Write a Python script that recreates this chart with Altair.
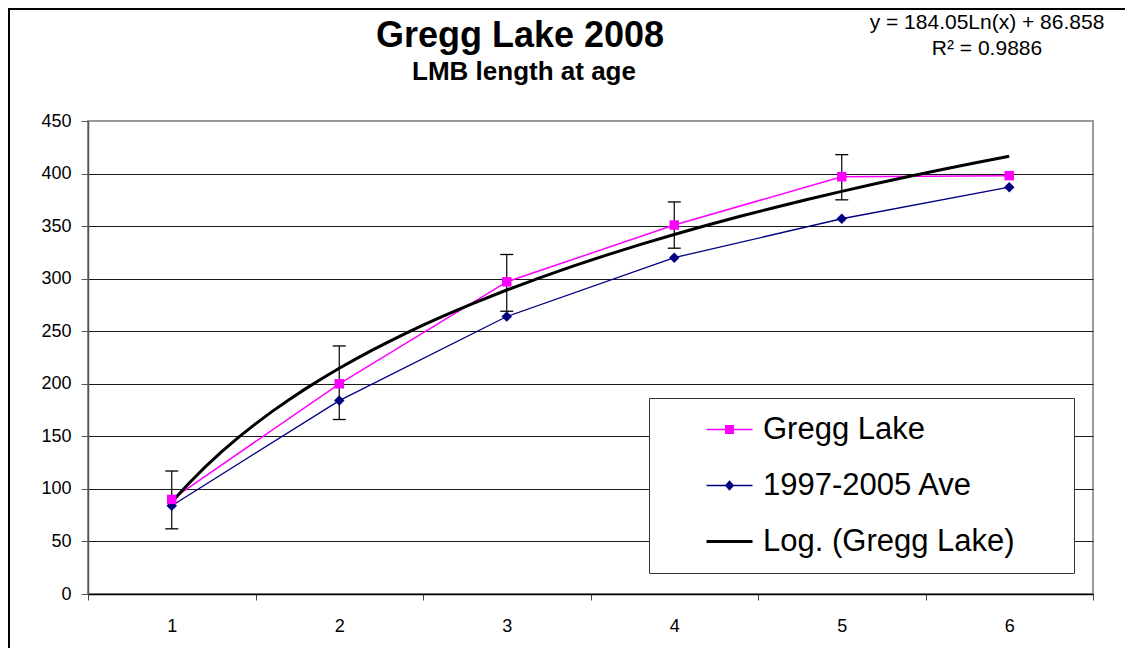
import altair as alt
import pandas as pd

FONT = "Liberation Sans, Arial, sans-serif"

# ---- data ----
ages = [1, 2, 3, 4, 5, 6]
gregg_lake = [90, 200, 297, 351, 397, 398]
ave_1997_2005 = [84, 184, 264, 320, 357, 387]
err_ages = [1, 2, 3, 4, 5]
err_low = [62, 166, 269, 329, 375]
err_high = [117, 236, 323, 373, 418]

series_names = ["Gregg Lake", "1997-2005 Ave", "Log. (Gregg Lake)"]
series_colors = ["#FF00FF", "#000080", "#000000"]
y_ticks = [0, 50, 100, 150, 200, 250, 300, 350, 400, 450]

title_text = ["Gregg Lake 2008"]
subtitle_text = ["LMB length at age"]
equation_text = ["y = 184.05Ln(x) + 86.858"]
r2_text = ["R\u00b2 = 0.9886"]

# legend symbols: line + marker drawn as filled paths
legend_paths = [
    "M-2.3,-0.07H2.3V0.07H-2.3Z M-0.45,-0.45H0.45V0.45H-0.45Z",
    "M-2.3,-0.065H2.3V0.065H-2.3Z M0,-0.52L0.46,0L0,0.52L-0.46,0Z",
    "M-2.3,-0.14H2.3V0.14H-2.3Z",
]

df = pd.DataFrame({
    "age": ages + ages,
    "series": [series_names[0]] * len(ages) + [series_names[1]] * len(ages),
    "length": gregg_lake + ave_1997_2005,
})
err_df = pd.DataFrame({"age": err_ages, "lo": err_low, "hi": err_high})

# category boundaries (ticks) and centres (labels)
x_vals = []
for a in ages:
    x_vals += [a - 0.5, a]
x_vals.append(ages[-1] + 0.5)

x_enc = alt.X(
    "age:Q",
    title=None,
    scale=alt.Scale(domain=[ages[0] - 0.5, ages[-1] + 0.5], nice=False, zero=False),
    axis=alt.Axis(
        values=x_vals,
        grid=False,
        labelExpr="datum.value % 1 === 0 ? format(datum.value, 'd') : ''",
        labelOverlap=False,
        labelFlush=False,
        labelFontSize=18,
        labelPadding=17,
        labelColor="black",
        tickSize=6,
        tickColor="#444444",
        tickOpacity={"condition": {"test": "datum.value % 1 === 0", "value": 0}, "value": 1},
        domainColor="#000000",
        domainWidth=1.5,
    ),
)
y_enc = alt.Y(
    "length:Q",
    title=None,
    scale=alt.Scale(domain=[0, 450], nice=False),
    axis=alt.Axis(
        values=y_ticks,
        grid=True,
        gridColor={"condition": {"test": "datum.value === 450", "value": "#999999"}, "value": "#1a1a1a"},
        gridWidth=1,
        labelFontSize=18,
        labelPadding=10,
        labelColor="black",
        tickSize=7,
        tickColor="#555555",
        domainColor="#555555",
        domainWidth=1.5,
    ),
)

gregg_only = alt.datum.series == series_names[0]
ave_only = alt.datum.series == series_names[1]

line_ave = alt.Chart(df).transform_filter(ave_only).mark_line(
    color=series_colors[1], strokeWidth=1.3).encode(x=x_enc, y=y_enc)

line_gregg = alt.Chart(df).transform_filter(gregg_only).mark_line(
    color=series_colors[0], strokeWidth=1.5).encode(x=x_enc, y=y_enc)

trend = alt.Chart(df).transform_filter(gregg_only).transform_regression(
    "age", "length", method="log", extent=[ages[0], ages[-1]]
).mark_line(color="black", strokeWidth=3).encode(x=x_enc, y=y_enc)

err_rule = alt.Chart(err_df).mark_rule(color="black", strokeWidth=1.2).encode(
    x="age:Q", y="lo:Q", y2="hi:Q"
)
cap_lo = alt.Chart(err_df).mark_tick(orient="horizontal", size=13, thickness=1.3,
                                     color="black", opacity=1).encode(x="age:Q", y="lo:Q")
cap_hi = alt.Chart(err_df).mark_tick(orient="horizontal", size=13, thickness=1.3,
                                     color="black", opacity=1).encode(x="age:Q", y="hi:Q")

pts_ave = alt.Chart(df).transform_filter(ave_only).mark_point(
    filled=True, opacity=1, shape="diamond", size=110, color=series_colors[1]
).encode(x=x_enc, y=y_enc)
pts_gregg = alt.Chart(df).transform_filter(gregg_only).mark_point(
    filled=True, opacity=1, shape="square", size=90, color=series_colors[0]
).encode(x=x_enc, y=y_enc)

legend = alt.Legend(
    title=None,
    orient="none",
    legendX=561,
    legendY=277,
    padding=16,
    strokeColor="#333333",
    fillColor="white",
    labelFont=FONT,
    labelFontSize=31,
    labelColor="black",
    labelLimit=800,
    # trailing blanks widen the box like the reference (zero-width space stops trimming)
    labelExpr="datum.label + '\u00a0\u00a0\u00a0\u00a0\u00a0\u200b'",
    symbolSize=400,
    symbolOffset=49,
    labelOffset=18,
    rowPadding=24,
    symbolStrokeWidth=0,
    symbolOpacity=1,
)

# legend source: zero-size points, so only the legend shows
legend_src = alt.Chart(df).mark_point(filled=True, size=0, opacity=1).encode(
    x=x_enc,
    y=y_enc,
    color=alt.Color("series:N", scale=alt.Scale(domain=series_names, range=series_colors), legend=legend),
    shape=alt.Shape("series:N", scale=alt.Scale(domain=series_names, range=legend_paths), legend=legend),
)


def text_layer(values, x, y, size, weight="normal"):
    return alt.Chart(pd.DataFrame({"t": values})).mark_text(
        font=FONT, fontSize=size, fontWeight=weight, align="center",
        baseline="alphabetic", color="black"
    ).encode(x=alt.value(x), y=alt.value(y), text="t:N")


title = text_layer(title_text, 432, -74, 36, "bold")
subtitle = text_layer(subtitle_text, 436, -41, 26, "bold")
eq = text_layer(equation_text, 899, -92, 21)
r2 = text_layer(r2_text, 899, -66, 21)

border = alt.Chart(pd.DataFrame({"k": [0]})).mark_rect(
    fillOpacity=0, stroke="black", strokeWidth=2
).encode(x=alt.value(-79), x2=alt.value(1200), y=alt.value(-112), y2=alt.value(700))

chart = alt.layer(
    border, line_ave, line_gregg, trend, err_rule, cap_lo, cap_hi,
    pts_ave, pts_gregg, legend_src, title, subtitle, eq, r2
).properties(
    width=1005,
    height=473,
    autosize=alt.AutoSizeParams(type="none"),
    padding={"left": 80, "top": 113, "right": 32, "bottom": 54},
    background="white",
).configure_view(
    stroke="#999999", strokeWidth=2
).configure_axis(
    labelFont=FONT
)

chart.save("out.html", embed_options={"renderer": "svg", "actions": False})
